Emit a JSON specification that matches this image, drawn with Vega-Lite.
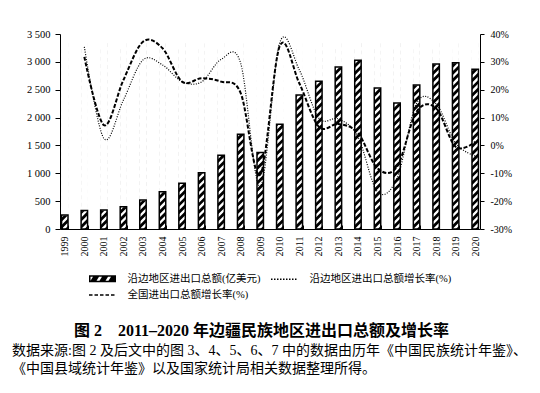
{
  "$schema": "https://vega.github.io/schema/vega-lite/v6.json",
  "width": 420,
  "height": 195,
  "autosize": "none",
  "padding": {"left": 60, "top": 34, "right": 60, "bottom": 164},
  "background": "white",
  "config": {"view": {"stroke": null}, "font": "Liberation Serif", "axis": {"grid": false, "labelOverlap": false, "labelSeparation": 0}},
  "datasets": {
    "amounts": [
      {"year": "1999", "amount": 251},
      {"year": "2000", "amount": 330},
      {"year": "2001", "amount": 341},
      {"year": "2002", "amount": 401},
      {"year": "2003", "amount": 520},
      {"year": "2004", "amount": 670},
      {"year": "2005", "amount": 820},
      {"year": "2006", "amount": 1010},
      {"year": "2007", "amount": 1323},
      {"year": "2008", "amount": 1700},
      {"year": "2009", "amount": 1373},
      {"year": "2010", "amount": 1879},
      {"year": "2011", "amount": 2405},
      {"year": "2012", "amount": 2651},
      {"year": "2013", "amount": 2908},
      {"year": "2014", "amount": 3028},
      {"year": "2015", "amount": 2531},
      {"year": "2016", "amount": 2262},
      {"year": "2017", "amount": 2585},
      {"year": "2018", "amount": 2962},
      {"year": "2019", "amount": 2985},
      {"year": "2020", "amount": 2867}
    ],
    "growth": [
      {"year": "2000", "border": 35.4, "national": 31.8},
      {"year": "2001", "border": 2.5, "national": 7.3},
      {"year": "2002", "border": 16.3, "national": 23.5},
      {"year": "2003", "border": 30.7, "national": 37.2},
      {"year": "2004", "border": 28.9, "national": 34.9},
      {"year": "2005", "border": 22.9, "national": 22.9},
      {"year": "2006", "border": 22.8, "national": 24.1},
      {"year": "2007", "border": 30.9, "national": 22.9},
      {"year": "2008", "border": 29.5, "national": 18.8},
      {"year": "2009", "border": -14.8, "national": -10.5},
      {"year": "2010", "border": 36.9, "national": 35.7},
      {"year": "2011", "border": 27.1, "national": 22.3},
      {"year": "2012", "border": 9.8, "national": 6.7},
      {"year": "2013", "border": 9.5, "national": 7.7},
      {"year": "2014", "border": 3.1, "national": 4.5},
      {"year": "2015", "border": -16.6, "national": -8.2},
      {"year": "2016", "border": -11.7, "national": -7.6},
      {"year": "2017", "border": 15.1, "national": 12.1},
      {"year": "2018", "border": 14.9, "national": 13.3},
      {"year": "2019", "border": 0.8, "national": -0.5},
      {"year": "2020", "border": -3.8, "national": 1.3}
    ],
    "legendItems": [
      {"series": "沿边地区进出口总额(亿美元)"},
      {"series": "沿边地区进出口总额增长率(%)"},
      {"series": "全国进出口总额增长率(%)"}
    ]
  },
  "title": {
    "text": ["数据来源:图 2 及后文中的图 3、4、5、6、7 中的数据由历年《中国民族统计年鉴》、", "《中国县域统计年鉴》以及国家统计局相关数据整理所得。"],
    "orient": "bottom",
    "anchor": "start",
    "frame": "group",
    "font": "Liberation Serif, Noto Sans CJK SC",
    "fontSize": 14,
    "fontWeight": "normal",
    "color": "black",
    "lineHeight": 18,
    "dx": -48,
    "offset": 6
  },
  "layer": [
    {
      "data": {"name": "amounts"},
      "layer": [
        {
          "mark": {
            "type": "point",
            "shape": "M0.05 0L1 0L1 -0.95ZM-1 0l2 -2v-1.2l-2 2zM-1 -2.25l2 -2v-1.2l-2 2zM-1 -4.5l2 -2v-1.2l-2 2zM-1 -6.75l2 -2v-1.2l-2 2zM-1 -9l2 -2v-1.2l-2 2zM-1 -11.25l2 -2v-1.2l-2 2zM-1 -13.5l2 -2v-1.2l-2 2zM-1 -15.75l2 -2v-1.2l-2 2zM-1 -18l2 -2v-1.2l-2 2zM-1 -20.25l2 -2v-1.2l-2 2zM-1 -22.5l2 -2v-1.2l-2 2zM-1 -24.75l2 -2v-1.2l-2 2zM-1 -27l2 -2v-1.2l-2 2zM-1 -29.25l2 -2v-1.2l-2 2zM-1 -31.5l2 -2v-1.2l-2 2zM-1 -33.75l2 -2v-1.2l-2 2zM-1 -36l2 -2v-1.2l-2 2zM-1 -38.25l2 -2v-1.2l-2 2zM-1 -40.5l2 -2v-1.2l-2 2zM-1 -42.75l2 -2v-1.2l-2 2zM-1 -45l2 -2v-1.2l-2 2zM-1 -47.25l2 -2v-1.2l-2 2zM-1 -49.5l2 -2v-1.2l-2 2zM-1 -51.75l2 -2v-1.2l-2 2zM-1 -54l2 -2v-1.2l-2 2z",
            "size": 42.25,
            "filled": true,
            "fill": "black",
            "opacity": 1,
            "strokeWidth": 0
          },
          "encoding": {
            "x": {"field": "year", "type": "ordinal", "scale": {"type": "band", "domain": ["1999","2000","2001","2002","2003","2004","2005","2006","2007","2008","2009","2010","2011","2012","2013","2014","2015","2016","2017","2018","2019","2020"], "paddingInner": 0.67, "paddingOuter": 0.08}},
            "y": {"datum": 0, "type": "quantitative", "scale": {"domain": [0, 3500], "nice": false}}
          }
        },
        {
          "mark": {"type": "bar", "fill": "white", "stroke": "white", "strokeWidth": 1},
          "encoding": {
            "x": {"field": "year", "type": "ordinal"},
            "y": {"field": "amount", "type": "quantitative", "scale": {"domain": [0, 3500], "nice": false}},
            "y2": {"datum": 3500}
          }
        },
        {
          "mark": {"type": "bar", "filled": false, "stroke": "black", "strokeWidth": 1.5},
          "encoding": {
            "x": {
              "field": "year",
              "type": "ordinal",
              "axis": {
                "title": "图 2　2011–2020 年边疆民族地区进出口总额及增长率",
                "titleFont": "Liberation Serif, Noto Sans CJK SC",
                "titleFontSize": 16,
                "titleFontWeight": "bold",
                "titleColor": "black",
                "titleX": 201,
                "titleY": 101,
                "titleAlign": "center",
                "titleBaseline": "middle",
                "labelAngle": 270,
                "labelFont": "Liberation Serif",
                "labelFontSize": 10,
                "labelColor": "black",
                "labelOverlap": false,
                "grid": false,
                "tickBand": "extent",
                "tickSize": -4,
                "labelPadding": 11,
                "domainColor": "black",
                "tickColor": "black",
                "zindex": 1
              }
            },
            "y": {
              "field": "amount",
              "type": "quantitative",
              "scale": {"domain": [0, 3500], "nice": false},
              "axis": {
                "title": null,
                "values": [0, 500, 1000, 1500, 2000, 2500, 3000, 3500],
                "tickCount": 10,
                "labelExpr": "replace(format(datum.value, ','), ',', ' ')",
                "labelOverlap": false,
                "grid": false,
                "domainColor": "black",
                "tickColor": "black",
                "labelColor": "black",
                "labelFont": "Liberation Serif",
                "labelFontSize": 10.5,
                "tickSize": 5,
                "labelPadding": 5,
                "zindex": 1
              }
            }
          }
        },
        {
          "data": {"name": "legendItems"},
          "transform": [{"filter": "false"}],
          "mark": {"type": "point", "filled": true},
          "encoding": {
            "x": {"datum": "1999", "type": "ordinal"},
            "y": {"datum": 0, "type": "quantitative"},
            "shape": {
              "field": "series", "type": "nominal",
              "scale": {"domain": ["沿边地区进出口总额(亿美元)", "沿边地区进出口总额增长率(%)", "全国进出口总额增长率(%)"], "range": ["M-2.7 -0.7H2.7V0.7H-2.7ZM-2.4 -0.4V0.4H2.4V-0.4ZM-2.4 0.4L-1.2 0.4L-0.7 -0.4L-1.9 -0.4ZM-0.6 0.4L0.6 0.4L1.1 -0.4L-0.1 -0.4ZM1.2 0.4L2.4 0.4L2.4 -0.4L1.7 -0.4Z", "M-2.7 0H2.7", "M-2.7 0H2.7"]},
              "legend": {
                "orient": "none", "legendX": 36.5, "legendY": 238.5, "direction": "horizontal", "columns": 2, "title": null,
                "labelFont": "Liberation Serif, Noto Sans CJK SC", "labelFontSize": 10.5, "labelColor": "black",
                "labelOffset": 19, "labelLimit": 300, "symbolSize": 100, "symbolStrokeWidth": 1.6, "symbolOpacity": 1,
                "columnPadding": 7, "rowPadding": 3.5
              }
            },
            "fill": {
              "field": "series", "type": "nominal",
              "scale": {"domain": ["沿边地区进出口总额(亿美元)", "沿边地区进出口总额增长率(%)", "全国进出口总额增长率(%)"], "range": ["black", "transparent", "transparent"]},
              "legend": {
                "orient": "none", "legendX": 36.5, "legendY": 238.5, "direction": "horizontal", "columns": 2, "title": null,
                "labelFont": "Liberation Serif, Noto Sans CJK SC", "labelFontSize": 10.5, "labelColor": "black",
                "labelOffset": 19, "labelLimit": 300, "symbolSize": 100, "symbolStrokeWidth": 1.6, "symbolOpacity": 1,
                "columnPadding": 7, "rowPadding": 3.5
              }
            },
            "stroke": {
              "field": "series", "type": "nominal",
              "scale": {"domain": ["沿边地区进出口总额(亿美元)", "沿边地区进出口总额增长率(%)", "全国进出口总额增长率(%)"], "range": ["transparent", "black", "black"]},
              "legend": {
                "orient": "none", "legendX": 36.5, "legendY": 238.5, "direction": "horizontal", "columns": 2, "title": null,
                "labelFont": "Liberation Serif, Noto Sans CJK SC", "labelFontSize": 10.5, "labelColor": "black",
                "labelOffset": 19, "labelLimit": 300, "symbolSize": 100, "symbolStrokeWidth": 1.6, "symbolOpacity": 1,
                "columnPadding": 7, "rowPadding": 3.5
              }
            },
            "strokeDash": {
              "field": "series", "type": "nominal",
              "scale": {"domain": ["沿边地区进出口总额(亿美元)", "沿边地区进出口总额增长率(%)", "全国进出口总额增长率(%)"], "range": [[1, 0], [1.5, 1.5], [3.5, 2]]},
              "legend": {
                "orient": "none", "legendX": 36.5, "legendY": 238.5, "direction": "horizontal", "columns": 2, "title": null,
                "labelFont": "Liberation Serif, Noto Sans CJK SC", "labelFontSize": 10.5, "labelColor": "black",
                "labelOffset": 19, "labelLimit": 300, "symbolSize": 100, "symbolStrokeWidth": 1.6, "symbolOpacity": 1,
                "columnPadding": 7, "rowPadding": 3.5
              }
            }
          }
        }
      ]
    },
    {
      "data": {"name": "growth"},
      "layer": [
        {
          "mark": {"type": "line", "interpolate": "cardinal", "stroke": "black", "strokeWidth": 1.2, "strokeDash": [1, 1.5]},
          "encoding": {
            "x": {"field": "year", "type": "ordinal"},
            "y": {
              "field": "border",
              "type": "quantitative",
              "scale": {"domain": [-30, 40], "nice": false},
              "axis": {
                "orient": "right",
                "title": null,
                "values": [-30, -20, -10, 0, 10, 20, 30, 40],
                "tickCount": 10,
                "labelExpr": "datum.value + '%'",
                "labelOverlap": false,
                "grid": false,
                "domainColor": "black",
                "tickColor": "black",
                "labelColor": "black",
                "labelFont": "Liberation Serif",
                "labelFontSize": 10,
                "tickSize": 4,
                "labelPadding": 6,
                "zindex": 1
              }
            }
          }
        },
        {
          "mark": {"type": "line", "interpolate": "cardinal", "stroke": "black", "strokeWidth": 2, "strokeDash": [4, 1.8]},
          "encoding": {
            "x": {"field": "year", "type": "ordinal"},
            "y": {"field": "national", "type": "quantitative", "scale": {"domain": [-30, 40], "nice": false}}
          }
        }
      ]
    }
  ],
  "resolve": {"scale": {"y": "independent"}}
}
